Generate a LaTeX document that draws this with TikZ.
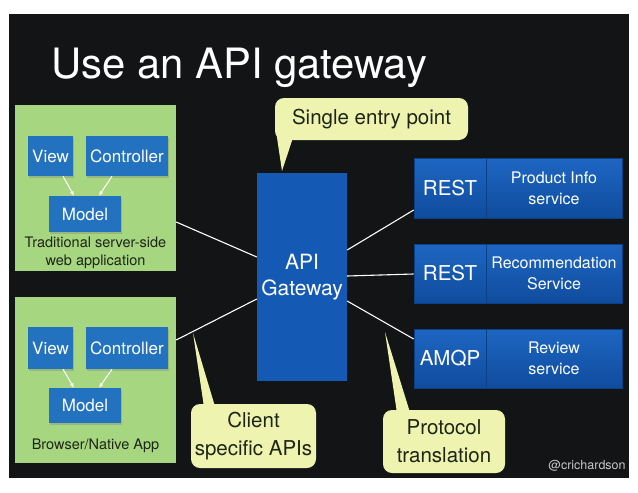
\documentclass[tikz,border=0pt]{standalone}
\usepackage{fontspec}
\setmainfont{TeX Gyre Heros}
\usetikzlibrary{arrows.meta,shadows}
\definecolor{slide}{HTML}{131415}
\definecolor{appgreen}{HTML}{A6D680}
\definecolor{mvcblue}{HTML}{2272C0}
\definecolor{gwblue}{HTML}{1459B4}
\definecolor{svtop}{HTML}{1E66C2}
\definecolor{svbot}{HTML}{0F4C9E}
\definecolor{svline}{HTML}{0B3F86}
\definecolor{callfill}{HTML}{EFF3B0}
\definecolor{darktext}{HTML}{1E2416}
\definecolor{signgray}{HTML}{C8C8C8}
\begin{document}
\begin{tikzpicture}[x=1pt,y=-1pt,
  greenbox/.style={fill=appgreen, minimum width=161pt, minimum height=166pt, inner sep=0pt},
  mvc/.style={fill=mvcblue, text=white, inner sep=0pt, font=\fontsize{17}{20}\selectfont,
    drop shadow={opacity=0.35, shadow xshift=1pt, shadow yshift=-1.5pt}},
  applabel/.style={text=darktext, align=center, font=\fontsize{14.5}{18}\selectfont},
  mvcarrow/.style={draw=white, line width=1pt, -{Latex[length=4.5pt,width=4pt]}},
  gateway/.style={fill=gwblue, text=white, align=center, inner sep=0pt,
    minimum width=90pt, minimum height=208pt, font=\fontsize{21}{26}\selectfont},
  proto/.style={top color=svtop, bottom color=svbot, draw=svline, line width=0.6pt, text=white,
    inner sep=0pt, minimum width=72pt, font=\fontsize{20.5}{24}\selectfont},
  service/.style={top color=svtop, bottom color=svbot, draw=svline, line width=0.6pt, text=white,
    inner sep=0pt, minimum width=136pt, align=center, font=\fontsize{16}{21}\selectfont},
  callout/.style={fill=callfill, rounded corners=9pt, inner sep=0pt, align=center,
    text=darktext, font=\fontsize{20.5}{28}\selectfont},
  tail/.style={fill=callfill},
  link/.style={draw=white, line width=1.1pt}
]
\useasboundingbox (0,0) rectangle (638,493);
\fill[white] (0,0) rectangle (638,493);
\fill[slide] (9,14) rectangle (629,478);

% title
\node[anchor=base west, text=white, inner sep=0pt, font=\fontsize{41.8}{48}\selectfont] (title) at (51,78) {Use an API gateway};

% traditional app
\node[greenbox] (tg) at (95.5,188) {};
\node[mvc, minimum width=45pt, minimum height=40pt] (v1) at (50.5,156) {View};
\node[mvc, minimum width=82pt, minimum height=40pt] (c1) at (127,156) {Controller};
\node[mvc, minimum width=72pt, minimum height=36pt] (m1) at (85,214) {Model};
\node[applabel] (tl) at (95.5,253) {Traditional server-side\\web application};
\draw[mvcarrow] ([xshift=12.5pt]v1.south) -- ([xshift=-11pt]m1.north);
\draw[mvcarrow] ([xshift=-15pt]c1.south) -- ([xshift=14pt]m1.north);

% browser app
\node[greenbox] (bg) at (95.5,380) {};
\node[mvc, minimum width=45pt, minimum height=42pt] (v2) at (50.5,348) {View};
\node[mvc, minimum width=82pt, minimum height=42pt] (c2) at (127,348) {Controller};
\node[mvc, minimum width=72pt, minimum height=35pt] (m2) at (85,405.5) {Model};
\node[applabel] (bl) at (95.5,446) {Browser/Native App};
\draw[mvcarrow] ([xshift=12.5pt]v2.south) -- ([xshift=-11pt]m2.north);
\draw[mvcarrow] ([xshift=-15pt]c2.south) -- ([xshift=14pt]m2.north);

% gateway
\node[gateway] (gw) at (302,277) {API\\Gateway};

% services
\node[proto, minimum height=60pt] (r1) at (450,188) {REST};
\node[service, minimum height=60pt] (s1) at (554,188) {Product Info\\service};
\node[proto, minimum height=59pt] (r2) at (450,273.5) {REST};
\node[service, minimum height=59pt] (s2) at (554,273.5) {Recommendation\\Service};
\node[proto, minimum height=59pt] (r3) at (450,358.5) {AMQP};
\node[service, minimum height=59pt] (s3) at (554,358.5) {Review\\service};

% links
\draw[link] ([yshift=-34pt]tg.east) -- ([yshift=20pt]gw.west);
\draw[link] ([yshift=40pt]bg.east) -- ([yshift=-22pt]gw.west);
\draw[link] ([yshift=27pt]gw.east) -- ([yshift=-22pt]r1.west);
\draw[link] ([yshift=1pt]gw.east) -- ([yshift=-0.5pt]r2.west);
\draw[link] ([yshift=-24pt]gw.east) -- ([yshift=19.5pt]r3.west);

% callouts
\node[callout, minimum width=193pt, minimum height=42pt] (se) at (371.5,119) {Single entry point};
\coordinate (tipse) at (282,171);
\fill[tail] ([xshift=2pt,yshift=4pt]se.south west) -- (tipse) -- ([xshift=18pt,yshift=2pt]se.south west) -- cycle;

\node[callout, minimum width=125pt, minimum height=64pt] (cs) at (253.5,436) {Client\\specific APIs};
\coordinate (tipcs) at (193,333);
\fill[tail] ([xshift=13pt,yshift=-2pt]cs.north west) -- (tipcs) -- ([xshift=24pt,yshift=-2pt]cs.north west) -- cycle;

\node[callout, minimum width=122pt, minimum height=63pt] (pt) at (444,441.5) {Protocol\\translation};
\coordinate (tippt) at (385,332);
\fill[tail] ([xshift=14pt,yshift=-2pt]pt.north west) -- (tippt) -- ([xshift=27pt,yshift=-2pt]pt.north west) -- cycle;

% signature
\node[text=signgray, inner sep=0pt, font=\fontsize{12.5}{15}\selectfont] (sig) at (587,466) {@crichardson};
\end{tikzpicture}
\end{document}
